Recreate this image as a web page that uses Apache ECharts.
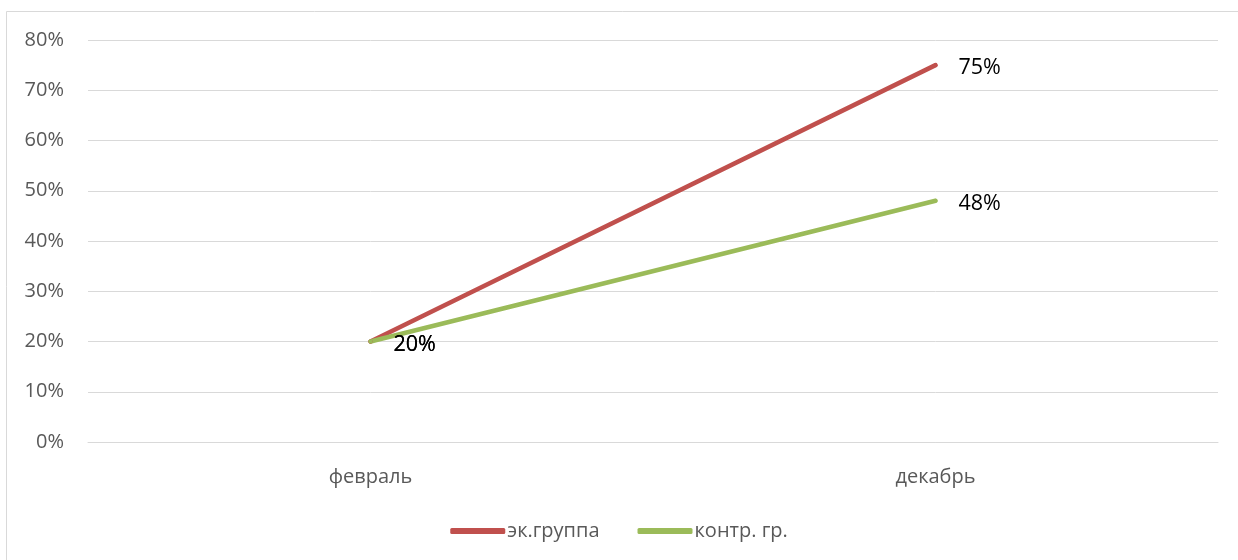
<!DOCTYPE html>
<html>
<head>
<meta charset="utf-8">
<script src="https://cdn.jsdelivr.net/npm/echarts@6/dist/echarts.min.js"></script>
<style>
html,body{margin:0;padding:0;background:#fff;}
#chart{width:1238px;height:560px;}
</style>
</head>
<body>
<div id="chart"></div>
<script>
const categories = ['февраль', 'декабрь'];
const seriesNames = ['эк.группа', 'контр. гр.'];
const expGroup = [20, 75];
const ctrlGroup = [20, 48];
const yTicks = [0, 10, 20, 30, 40, 50, 60, 70, 80];

const FONT = 'Open Sans';
const chart = echarts.init(document.getElementById('chart'));

function mkSeries(name, data, color) {
  return {
    name: name,
    type: 'line',
    data: data,
    symbol: 'circle',
    symbolSize: 4,
    showSymbol: true,
    lineStyle: { color: color, width: 4.5, cap: 'round' },
    itemStyle: { color: color, borderWidth: 0 },
    label: {
      show: true,
      position: 'right',
      distance: 21,
      offset: [0, 3],
      formatter: p => p.value + '%',
      color: '#000',
      fontSize: 21.5,
      fontFamily: FONT
    },
    z: 3
  };
}

chart.setOption({
  animation: false,
  backgroundColor: '#fff',
  textStyle: { fontFamily: FONT },
  graphic: [{
    type: 'rect',
    shape: { x: 6.5, y: 11.5, width: 1240, height: 560 },
    style: { fill: 'none', stroke: '#d9d9d9', lineWidth: 1 },
    silent: true,
    z: -1
  }],
  grid: { left: 88, right: 20, top: 40, bottom: 118, containLabel: false },
  legend: {
    bottom: 14,
    left: 'center',
    itemWidth: 55,
    itemHeight: 6,
    itemGap: 38,
    icon: 'roundRect',
    textStyle: { color: '#595959', fontSize: 20, fontFamily: FONT, padding: [0, 0, 0, -3] },
    data: seriesNames
  },
  xAxis: {
    type: 'category',
    data: categories,
    boundaryGap: true,
    axisLine: { show: true, lineStyle: { color: '#d9d9d9', width: 1 } },
    axisTick: { show: false },
    axisLabel: { color: '#595959', fontSize: 20, fontFamily: FONT, margin: 25 }
  },
  yAxis: {
    type: 'value',
    min: yTicks[0],
    max: yTicks[yTicks.length - 1],
    interval: 10,
    axisLine: { show: false },
    axisTick: { show: false },
    splitLine: { lineStyle: { color: '#d9d9d9', width: 1 } },
    axisLabel: { color: '#595959', fontSize: 20, fontFamily: FONT, margin: 24, formatter: v => v + '%' }
  },
  series: [
    mkSeries(seriesNames[0], expGroup, '#c0504d'),
    mkSeries(seriesNames[1], ctrlGroup, '#9bbb59')
  ]
});
</script>
</body>
</html>
